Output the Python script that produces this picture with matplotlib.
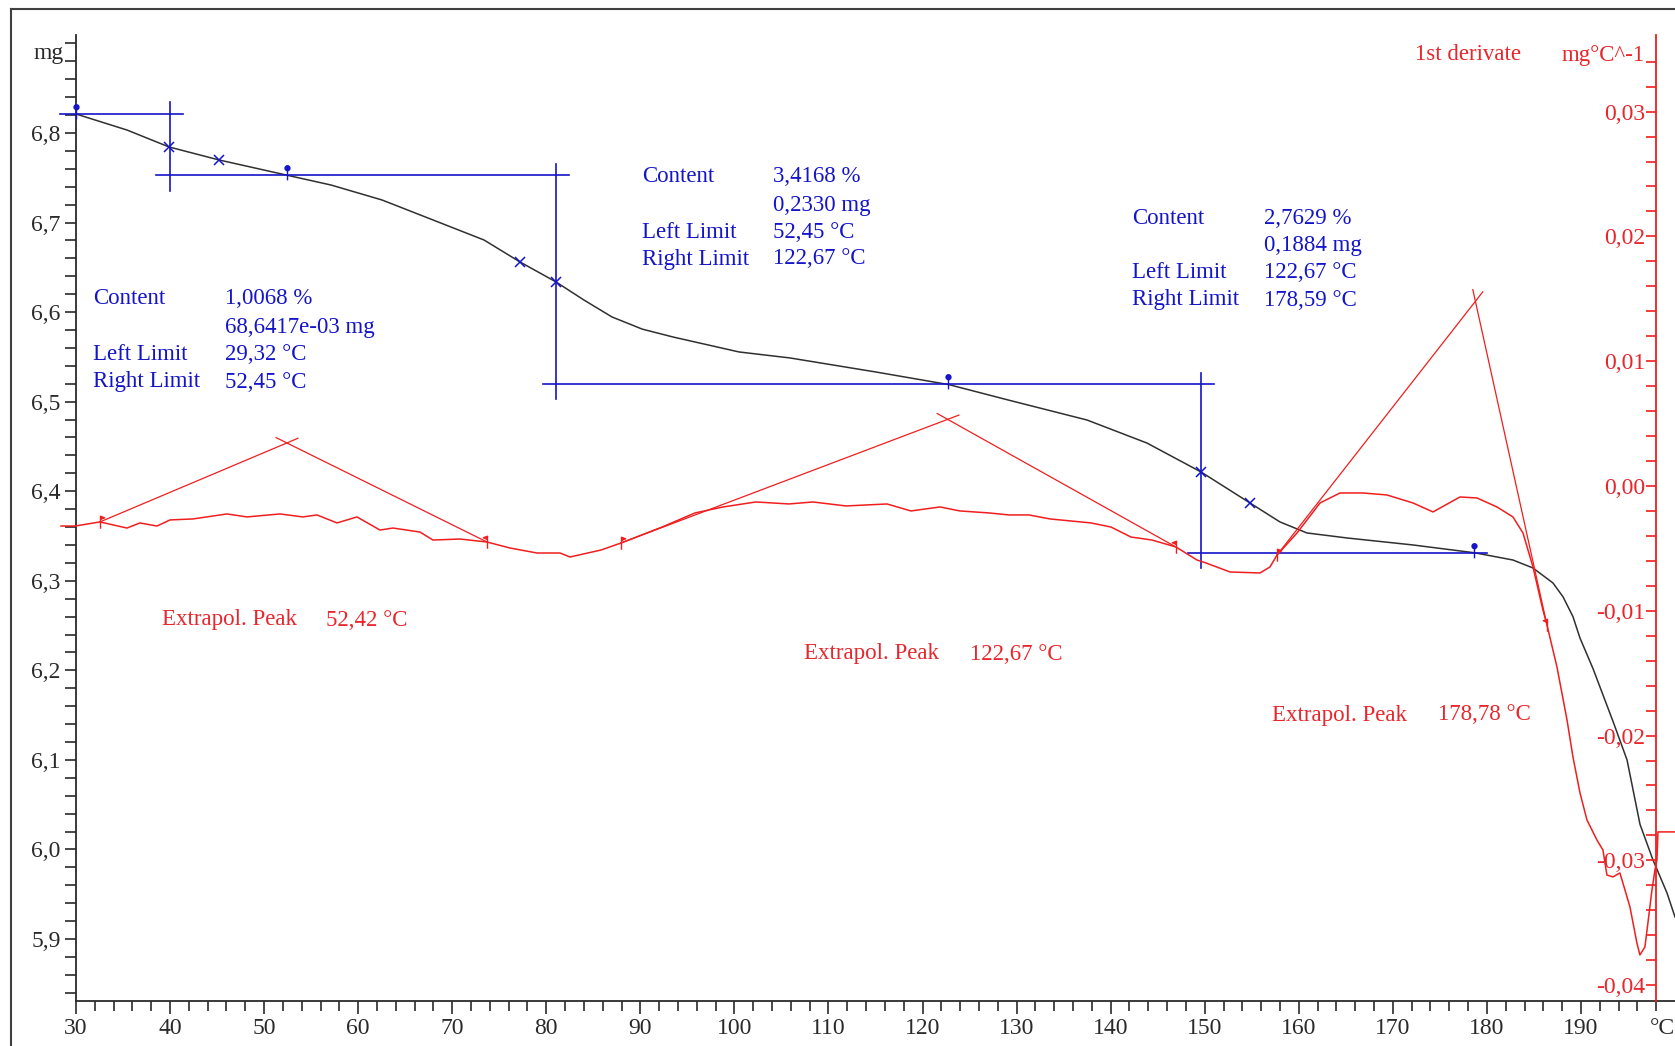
import numpy as np
import matplotlib.pyplot as plt
from matplotlib.path import Path
from matplotlib.ticker import FixedLocator, FuncFormatter

plt.rcParams['font.family'] = ['Liberation Serif', 'DejaVu Serif']

# TG curve (mg vs °C)
tg_temp = [30.00, 35.42, 39.89, 45.20, 52.54, 57.11, 62.53, 67.95, 73.38, 77.20,
           81.03, 84.00, 86.98, 90.20, 93.47, 100.49, 105.91, 115.05, 122.81, 129.09,
           137.49, 143.86, 149.61, 154.81, 158.00, 160.87, 165.13, 172.14, 178.73, 182.77,
           184.90, 187.03, 188.10, 189.15, 189.90, 191.28, 193.41, 194.90, 196.28, 197.66,
           199.15, 200.00]
tg_mass = [6.8212, 6.8033, 6.7844, 6.7699, 6.7526, 6.7419, 6.7252, 6.7029, 6.6805, 6.6560,
           6.6337, 6.6135, 6.5946, 6.5810, 6.5722, 6.5555, 6.5488, 6.5331, 6.5190, 6.5019,
           6.4795, 6.4538, 6.4215, 6.3869, 6.3657, 6.3534, 6.3478, 6.3400, 6.3312, 6.3232,
           6.3143, 6.2975, 6.2820, 6.2600, 6.2360, 6.2020, 6.1430, 6.1000, 6.0280, 5.9883,
           5.9514, 5.9246]

# 1st derivative (mg/°C)
dtg_temp = [28.41, 29.89, 32.55, 35.42, 36.80, 38.61, 39.99, 42.44, 46.05, 48.18,
            51.69, 54.13, 55.62, 57.75, 59.87, 62.32, 63.70, 66.57, 67.95, 70.83,
            73.70, 76.14, 79.01, 81.46, 82.52, 85.82, 87.94, 92.30, 95.81, 98.79,
            102.29, 105.80, 108.35, 111.86, 116.22, 118.77, 121.86, 123.98, 127.07, 129.19,
            131.32, 133.55, 137.91, 140.04, 142.16, 144.40, 146.95, 149.18, 150.14, 152.69,
            155.88, 156.94, 157.69, 159.81, 162.26, 164.38, 166.83, 169.38, 172.14, 174.27,
            177.14, 178.95, 181.07, 182.77, 183.84, 184.90, 185.96, 186.39, 187.45, 188.52,
            189.15, 189.90, 190.64, 191.70, 192.34, 192.76, 193.40, 194.14, 194.46, 195.21,
            195.95, 196.27, 196.80, 197.12, 197.55, 197.87, 198.08, 198.19, 200.00]
dtg_val = [-0.00321, -0.00321, -0.00288, -0.00337, -0.00296, -0.00321, -0.00272, -0.00264, -0.00224, -0.00248,
           -0.00224, -0.00248, -0.00232, -0.00296, -0.00248, -0.00353, -0.00337, -0.00369, -0.00433, -0.00425,
           -0.00449, -0.00497, -0.00537, -0.00537, -0.00569, -0.00513, -0.00457, -0.00329, -0.00216, -0.00168,
           -0.00128, -0.00144, -0.00128, -0.00160, -0.00144, -0.00200, -0.00168, -0.00200, -0.00216, -0.00232,
           -0.00232, -0.00264, -0.00296, -0.00329, -0.00409, -0.00433, -0.00489, -0.00593, -0.00617, -0.00689,
           -0.00697, -0.00649, -0.00553, -0.00377, -0.00136, -0.00056, -0.00056, -0.00072, -0.00136, -0.00208,
           -0.00088, -0.00096, -0.00168, -0.00248, -0.00377, -0.00649, -0.00994, -0.01114, -0.01450, -0.01875,
           -0.02171, -0.02460, -0.02676, -0.02837, -0.02917, -0.03117, -0.03133, -0.03101, -0.03181, -0.03373,
           -0.03662, -0.03758, -0.03694, -0.03502, -0.03237, -0.03077, -0.02997, -0.02772, -0.02772]

# step evaluation
start_mass = 6.8212
step_pct = [1.0068, 3.4168, 2.7629]
step_mg = [0.0686417, 0.2330, 0.1884]
step_left = [29.32, 52.45, 122.67]
step_right = [52.45, 122.67, 178.59]
step_mid = [39.95, 81.03, 149.60]
cross_temp = [39.89, 45.20, 77.20, 81.03, 149.60, 154.80]

# extrapolated peaks on the derivative
peak_temp = [52.42, 122.67, 178.78]
peak_height = [0.00345, 0.00534, 0.0148]
peak_left = [32.55, 87.94, 157.69]
peak_right = [73.70, 146.95, 186.39]

BLUE = '#1414c8'
RED = '#f01e1e'
REDTXT = '#e8262c'
DARK = '#2a2a2a'
W, H = 1675, 1046


def comma(s):
    return s.replace('.', ',')


fig = plt.figure(figsize=(W / 100, H / 100), dpi=100)
ax = fig.add_axes([76 / W, 1 - 1001 / H, 1599 / W, 966 / H])
ax.set_xlim(30, 200)
ax.set_ylim(5.8308, 6.9094)
for s in ['top', 'right']:
    ax.spines[s].set_visible(False)
for s in ['left', 'bottom']:
    ax.spines[s].set_color(DARK)
    ax.spines[s].set_linewidth(1.3)

ax.xaxis.set_major_locator(FixedLocator(np.arange(30, 191, 10)))
ax.xaxis.set_minor_locator(FixedLocator(np.arange(30, 199, 2)))
ax.yaxis.set_major_locator(FixedLocator(np.round(np.arange(5.9, 6.91, 0.1), 2)))
ax.yaxis.set_minor_locator(FixedLocator(np.round(np.arange(5.84, 6.91, 0.02), 2)))
ax.xaxis.set_major_formatter(FuncFormatter(lambda v, p: f"{v:.0f}"))
ax.yaxis.set_major_formatter(FuncFormatter(lambda v, p: '' if v > 6.85 else comma(f"{v:.1f}")))
ax.tick_params(axis='x', which='major', length=9, width=1.2, color=DARK, labelsize=17,
               labelcolor=DARK, pad=3)
ax.tick_params(axis='x', which='minor', length=7, width=1.2, color=DARK)
ax.tick_params(axis='y', which='both', length=8, width=1.2, color=DARK, labelsize=17,
               labelcolor=DARK, pad=3)

# TG curve
ax.plot(tg_temp, tg_mass, color='#303030', lw=1.1, zorder=3)

# step construction lines
levels = [start_mass]
for m in step_mg:
    levels.append(levels[-1] - m)
hx = [step_left[0]] + step_mid + [step_right[-1]]
for k in range(4):
    ax.plot([hx[k] - 1.0 if k == 0 else hx[k] - 1.4, hx[k + 1] + 1.4], [levels[k], levels[k]],
            color=BLUE, lw=1.2, clip_on=False, zorder=4)
for k in range(3):
    ax.plot([step_mid[k], step_mid[k]], [levels[k + 1] - 0.017, levels[k] + 0.013],
            color=BLUE, lw=1.2, zorder=4)

ax.plot(cross_temp, np.interp(cross_temp, tg_temp, tg_mass), ls='none', marker='x',
        ms=7, mew=1.1, color=BLUE, zorder=5)

pin = Path.make_compound_path(Path([(0, -5), (0, 7)]), Path.circle((0, 7.5), 2.5))
pin_t = [max(step_left[0], 30)] + step_right
ax.plot(pin_t, levels, ls='none', marker=pin, ms=14, mew=1.0, mec=BLUE, mfc=BLUE,
        zorder=6, clip_on=False)

# derivative axis
ax2 = ax.twinx()
ax2.set_ylim(-0.04127, 0.03614)
for s in ['top', 'bottom', 'right']:
    ax2.spines[s].set_visible(False)
ax2.spines['left'].set_visible(True)
ax2.spines['left'].set_position(('data', 198))
ax2.spines['left'].set_color(RED)
ax2.spines['left'].set_linewidth(1.3)
ax2.yaxis.tick_left()
ax2.yaxis.set_major_locator(FixedLocator(np.round(np.arange(-0.04, 0.031, 0.01), 3)))
ax2.yaxis.set_minor_locator(FixedLocator(np.round(np.arange(-0.04, 0.0341, 0.002), 3)))
ax2.yaxis.set_major_formatter(FuncFormatter(
    lambda v, p: comma(f"{0.0 if abs(v) < 1e-9 else v:.2f}")))
ax2.tick_params(axis='y', which='both', length=7, width=1.2, color=RED, labelsize=17,
                labelcolor=REDTXT, pad=1)

ax2.plot(dtg_temp, dtg_val, color=RED, lw=1.1, clip_on=False, zorder=3)

# tangents for the extrapolated peaks
fig.canvas.draw()
tr = ax2.transData


def extended(p_from, p_to, px=12):
    d0 = tr.transform(p_from)
    d1 = tr.transform(p_to)
    u = (d1 - d0) / np.hypot(*(d1 - d0))
    return tr.inverted().transform(d1 + u * px)


for k in range(3):
    apex = (peak_temp[k], peak_height[k])
    for foot_t in (peak_left[k], peak_right[k]):
        foot = (foot_t, np.interp(foot_t, dtg_temp, dtg_val))
        end = extended(foot, apex)
        ax2.plot([foot[0], end[0]], [foot[1], end[1]], color=RED, lw=0.9, zorder=4)

flag_r = Path([(0, -6), (0, 6), (4, 4.5), (0, 3)])
flag_l = Path([(0, -6), (0, 6), (-4, 4.5), (0, 3)])
ax2.plot(peak_left, np.interp(peak_left, dtg_temp, dtg_val), ls='none', marker=flag_r,
         ms=9, mew=1.0, color=RED, zorder=5)
ax2.plot(peak_right, np.interp(peak_right, dtg_temp, dtg_val), ls='none', marker=flag_l,
         ms=9, mew=1.0, color=RED, zorder=5)


def ftext(px, py, s, **kw):
    fig.text(px / W, 1 - py / H, s, va='center', ha=kw.pop('ha', 'left'), **kw)


# step result blocks
blocks = [(93, 225, [299, 327, 355, 382]),
          (642, 773, [177, 205, 232, 259]),
          (1132, 1264, [218, 246, 273, 300])]
for k, (lx, vx, ys) in enumerate(blocks):
    mg = step_mg[k]
    mg_s = comma(f"{mg * 1000:.4f}e-03") if mg < 0.1 else comma(f"{mg:.4f}")
    rows = [("Content", comma(f"{step_pct[k]:.4f} %")),
            ("", mg_s + " mg"),
            ("Left Limit", comma(f"{step_left[k]:.2f} °C")),
            ("Right Limit", comma(f"{step_right[k]:.2f} °C"))]
    for (lab, val), y in zip(rows, ys):
        if lab:
            ftext(lx, y, lab, fontsize=16.5, color=BLUE)
        ftext(vx, y, val, fontsize=16.5, color=BLUE)

# peak labels
for k, (lx, vx, y) in enumerate([(162, 326, 620), (804, 970, 654), (1272, 1438, 715)]):
    ftext(lx, y, "Extrapol. Peak", fontsize=16.5, color=REDTXT)
    ftext(vx, y, comma(f"{peak_temp[k]:.2f} °C"), fontsize=16.5, color=REDTXT)

# axis units
ftext(64, 53, "mg", fontsize=17, color=DARK, ha='right')
ftext(1415, 55, "1st derivate", fontsize=16.5, color=REDTXT)
ftext(1645, 55, "mg°C^-1", fontsize=16.5, color=REDTXT, ha='right')
ftext(1662, 1028, "°C", fontsize=17, color=DARK, ha='center')

# outer frame
fig.add_artist(plt.Line2D([11 / W, 11 / W], [0, 1 - 9 / H], color='#404040', lw=1.5))
fig.add_artist(plt.Line2D([11 / W, 1], [1 - 9 / H, 1 - 9 / H], color='#404040', lw=1.5))

fig.savefig('out.png', dpi=100)
